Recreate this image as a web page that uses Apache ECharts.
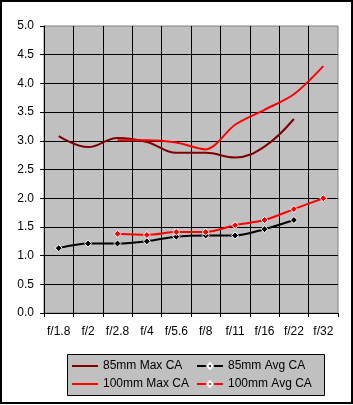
<!DOCTYPE html>
<html>
<head>
<meta charset="utf-8">
<script src="https://cdn.jsdelivr.net/npm/echarts@6/dist/echarts.min.js"></script>
<style>
  html, body { margin: 0; padding: 0; background: #fff; }
  #chart { width: 353px; height: 405px; }
</style>
</head>
<body>
<div id="chart"></div>
<script>
var categories = ['f/1.8', 'f/2', 'f/2.8', 'f/4', 'f/5.6', 'f/8', 'f/11', 'f/16', 'f/22', 'f/32'];
var max85 = [3.08, 2.89, 3.05, 2.98, 2.79, 2.79, 2.71, 2.90, 3.38, null];
var avg85 = [1.13, 1.21, 1.21, 1.25, 1.33, 1.35, 1.35, 1.46, 1.62, null];
var max100 = [null, null, 3.01, 3.01, 2.97, 2.85, 3.28, 3.54, 3.81, 4.30];
var avg100 = [null, null, 1.38, 1.36, 1.41, 1.41, 1.53, 1.62, 1.81, 2.00];

var font = "'Liberation Sans', Arial, sans-serif";
var myChart = echarts.init(document.getElementById('chart'));

var legendText = { color: '#000', fontFamily: font, fontSize: 12 };
// plain line icon for the series without markers
var lineIcon = 'path://M0,0L26,0L26,2L0,2Z';

option = {
    backgroundColor: '#fff',
    animation: false,
    graphic: [
        { type: 'rect', z: -10, shape: { x: 1, y: 1, width: 351, height: 402 },
          style: { fill: 'none', stroke: '#000', lineWidth: 2 } },
        { type: 'rect', z: -10, shape: { x: 67.5, y: 354.5, width: 257, height: 41 },
          style: { fill: '#c0c0c0', stroke: '#000', lineWidth: 1 } }
    ],
    grid: {
        left: 44, top: 26, right: 15, bottom: 92,
        show: true, backgroundColor: '#c0c0c0', borderColor: '#808080', borderWidth: 1
    },
    legend: [{
        data: [{ name: '85mm Max CA', icon: lineIcon }, { name: '100mm Max CA', icon: lineIcon }],
        orient: 'vertical', left: 72, top: 360, padding: 0,
        itemWidth: 26, itemHeight: 7, itemGap: 6, symbolKeepAspect: true,
        textStyle: legendText
    }, {
        data: ['85mm Avg CA', '100mm Avg CA'],
        orient: 'vertical', left: 196, top: 360, padding: 0,
        itemWidth: 26, itemHeight: 7, itemGap: 6,
        textStyle: legendText
    }],
    xAxis: {
        type: 'category',
        data: categories,
        boundaryGap: true,
        axisLine: { lineStyle: { color: '#000', width: 1 } },
        axisTick: { show: true, length: 4, inside: false, lineStyle: { color: '#000' } },
        axisLabel: { color: '#000', fontFamily: font, fontSize: 12, margin: 13, interval: 0 },
        splitLine: { show: true, showMinLine: false, showMaxLine: false, interval: 0, lineStyle: { color: '#000', width: 1 } }
    },
    yAxis: {
        type: 'value',
        min: 0, max: 5, interval: 0.5,
        axisLine: { show: true, lineStyle: { color: '#000', width: 1 } },
        axisTick: { show: true, length: 4, lineStyle: { color: '#000' } },
        axisLabel: {
            color: '#000', fontFamily: font, fontSize: 12, margin: 10,
            formatter: function (v) { return v.toFixed(1); }
        },
        splitLine: { show: true, showMaxLine: false, lineStyle: { color: '#000', width: 1 } }
    },
    series: [
        {
            name: '85mm Max CA', type: 'line', data: max85, smooth: 0.4,
            symbol: 'none', lineStyle: { color: '#800000', width: 2 }, itemStyle: { color: '#800000' }
        },
        {
            name: '85mm Avg CA', type: 'line', data: avg85, smooth: 0.3,
            symbol: 'diamond', symbolSize: 7,
            lineStyle: { color: '#000', width: 2 },
            itemStyle: { color: '#000', borderColor: '#fff', borderWidth: 1 }
        },
        {
            name: '100mm Max CA', type: 'line', data: max100, smooth: 0.3,
            symbol: 'none', lineStyle: { color: '#ff0000', width: 2 }, itemStyle: { color: '#ff0000' }
        },
        {
            name: '100mm Avg CA', type: 'line', data: avg100, smooth: 0.3,
            symbol: 'diamond', symbolSize: 7,
            lineStyle: { color: '#ff0000', width: 2 },
            itemStyle: { color: '#ff0000', borderColor: '#fff', borderWidth: 1 }
        }
    ]
};

myChart.setOption(option);
</script>
</body>
</html>
